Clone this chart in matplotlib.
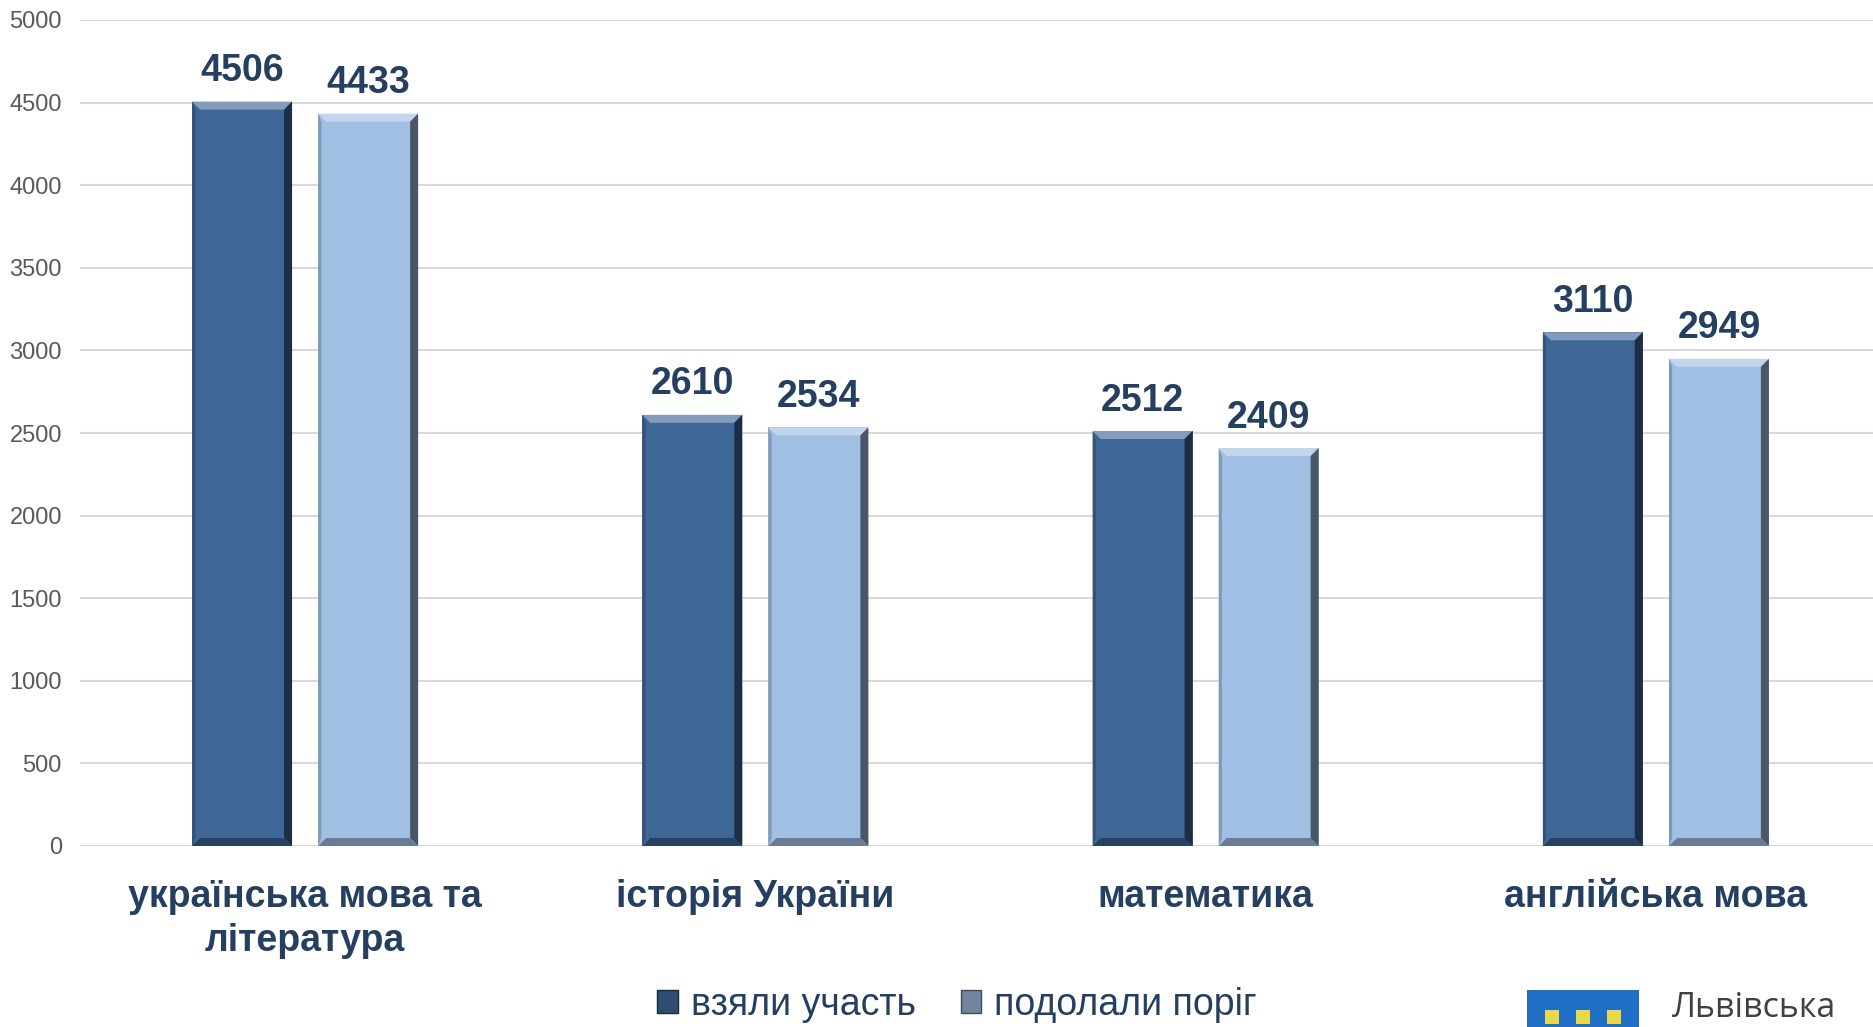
import numpy as np
import matplotlib
matplotlib.use("Agg")
import matplotlib.pyplot as plt
from matplotlib.patches import Polygon, Rectangle
import matplotlib.colors as mcolors

# Data
subjects = ["українська мова та\nлітература", "історія України", "математика", "англійська мова"]
took_part = [4506, 2610, 2512, 3110]
passed = [4433, 2534, 2409, 2949]
series_names = ["взяли участь", "подолали поріг"]
y_ticks = list(range(0, 5001, 500))

dark_col = "#3E6696"
light_col = "#A1BEE3"
text_col = "#243F60"

plt.rcParams["font.family"] = ["Liberation Sans", "DejaVu Sans"]

fig = plt.figure(figsize=(18.74, 10.27), dpi=100)
ax_w_px = 1801
ax_h_px = 826
ax = fig.add_axes([80 / 1874, 1 - 846 / 1027, ax_w_px / 1874, ax_h_px / 1027])

x = np.arange(len(subjects))
w = 0.222
off = 0.14

ax.set_xlim(-0.5, len(subjects) - 0.5)
ax.set_ylim(0, 5000)

# bevel size in data units (about 8 px)
bx = 8 / ax_w_px * len(subjects)
by = 8 / ax_h_px * 5000


def shade(c, f):
    r, g, b = mcolors.to_rgb(c)
    if f > 1:
        return (r + (1 - r) * (f - 1), g + (1 - g) * (f - 1), b + (1 - b) * (f - 1))
    return (r * f, g * f, b * f)


def bevel_bar(x0, h, col):
    x1 = x0 + w
    ax.add_patch(Rectangle((x0, 0), w, h, facecolor=col, edgecolor="none", zorder=3))
    # top
    ax.add_patch(Polygon([(x0, h), (x1, h), (x1 - bx, h - by), (x0 + bx, h - by)],
                         facecolor=shade(col, 1.35), edgecolor="none", zorder=4))
    # right
    ax.add_patch(Polygon([(x1, h), (x1, 0), (x1 - bx, by), (x1 - bx, h - by)],
                         facecolor=shade(col, 0.45), edgecolor="none", zorder=4))
    # bottom
    ax.add_patch(Polygon([(x0, 0), (x1, 0), (x1 - bx, by), (x0 + bx, by)],
                         facecolor=shade(col, 0.65), edgecolor="none", zorder=4))
    # left
    ax.add_patch(Polygon([(x0, h), (x0, 0), (x0 + bx * 0.4, by), (x0 + bx * 0.4, h - by)],
                         facecolor=shade(col, 0.8), edgecolor="none", zorder=4))


for i in range(len(subjects)):
    bevel_bar(x[i] - off - w / 2, took_part[i], dark_col)
    bevel_bar(x[i] + off - w / 2, passed[i], light_col)
    for xv, v in [(x[i] - off, took_part[i]), (x[i] + off, passed[i])]:
        ax.annotate(str(v), (xv, v), xytext=(0, 9), textcoords="offset points",
                    ha="center", va="bottom", fontsize=27, fontweight="bold", color=text_col)

ax.set_yticks(y_ticks)
ax.set_yticklabels([str(t) for t in y_ticks], fontsize=17, color="#595959")
ax.yaxis.grid(True, color="#D9D9D9", linewidth=1.5)
ax.set_axisbelow(True)
ax.tick_params(axis="y", length=0, pad=13)
ax.tick_params(axis="x", length=0, pad=24)
ax.set_xticks(x)
ax.set_xticklabels(subjects, fontsize=27, fontweight="bold", color=text_col, linespacing=1.27, va="top")
for s in ax.spines.values():
    s.set_visible(False)

# legend
leg_handles = [Rectangle((0, 0), 1, 1, facecolor=shade(dark_col, 0.75), edgecolor=shade(dark_col, 0.4)),
               Rectangle((0, 0), 1, 1, facecolor=shade(light_col, 0.7), edgecolor=shade(light_col, 0.4))]
leg = fig.legend(leg_handles, series_names, loc="center", bbox_to_anchor=(957 / 1874, 1 - 1005 / 1027),
                 ncol=2, frameon=False, fontsize=27, handlelength=0.55, handleheight=0.55,
                 handletextpad=0.35, columnspacing=1.2)
for t in leg.get_texts():
    t.set_color(text_col)

# logo
fig.patches.append(Rectangle((1527 / 1874, 0), 112 / 1874, 37 / 1027, transform=fig.transFigure,
                             facecolor="#1F6FC4", edgecolor="none"))
for cx in [1552, 1583, 1614]:
    fig.patches.append(Rectangle(((cx - 7) / 1874, 3 / 1027), 14 / 1874, 14 / 1027,
                                 transform=fig.transFigure, facecolor="#E9D94A", edgecolor="none"))
fig.text(1672 / 1874, 1 - 1008 / 1027, "Львівська", fontsize=24.5, color="#404040",
         family=["Open Sans", "DejaVu Sans"], ha="left", va="center")

fig.savefig("out.png", dpi=100)
